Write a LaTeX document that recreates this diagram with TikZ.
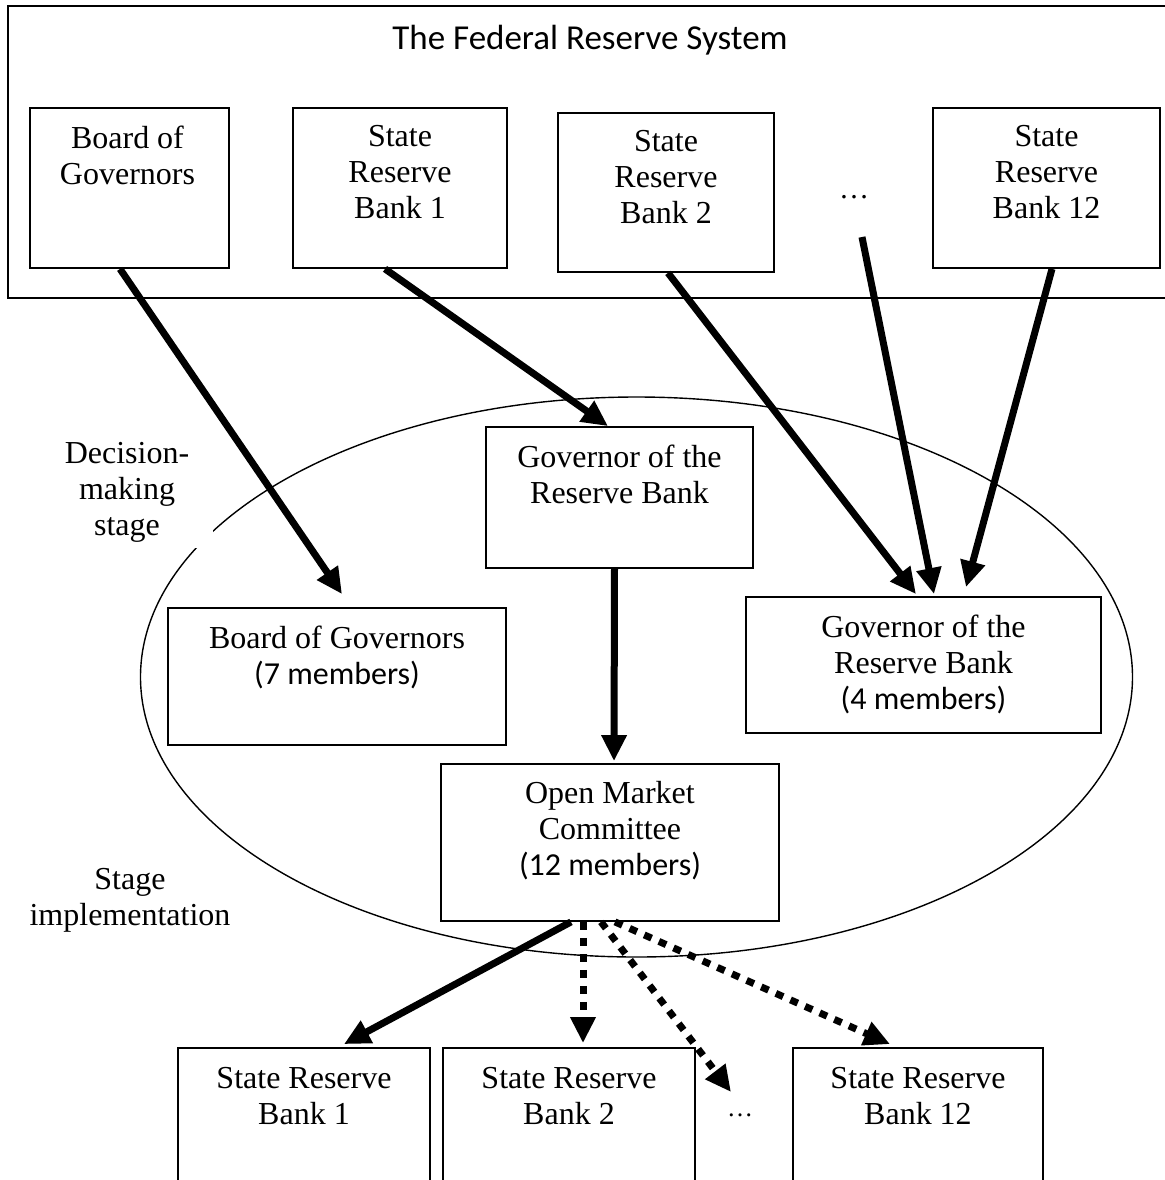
\documentclass[tikz,border=0pt]{standalone}
\usepackage{fontspec}
\setmainfont{Liberation Serif}
\newfontfamily\calibri{Carlito}
\usetikzlibrary{arrows.meta,calc}

\begin{document}
\begin{tikzpicture}[x=0.5pt,y=-0.5pt,
    box/.style={draw,line width=0.9pt,inner sep=0pt},
    boxtext/.style={anchor=north,align=center,inner sep=0pt,
      font=\fontsize{16}{18}\selectfont},
    sidetext/.style={align=center,font=\fontsize{16}{18}\selectfont},
    bigarrow/.style={line width=3.5pt,-{Triangle[length=13pt,width=12pt]}},
    dotarrow/.style={bigarrow,dash pattern=on 4pt off 4pt}]
  \useasboundingbox (0,0) rectangle (1164,1180);

  % the system
  \draw[line width=0.9pt] (8,6) rectangle (1200,298);
  \node[font=\calibri\fontsize{17.5}{20}\selectfont] (title) at (590,40) {The Federal Reserve System};
  \node[box,minimum width=99.5pt,minimum height=80pt] (bogT) at (129.5,188) {};
  \node[box,minimum width=107pt,minimum height=80pt] (srbOne) at (400,188) {};
  \node[box,minimum width=108pt,minimum height=79.5pt] (srbTwo) at (666,192.5) {};
  \node[box,minimum width=113.5pt,minimum height=80pt] (srbTwelve) at (1046.5,188) {};
  \node[font=\fontsize{15}{17}\selectfont] (dotsT) at (854,197) {\ldots};
  \node[boxtext] (bogTtext) at ([xshift=-1pt,yshift=-9pt]bogT.north) {Board of\\Governors};
  \node[boxtext] (srbOnetext) at ([yshift=-9pt]srbOne.north) {State\\Reserve\\Bank 1};
  \node[boxtext] (srbTwotext) at ([yshift=-9pt]srbTwo.north) {State\\Reserve\\Bank 2};
  \node[boxtext] (srbTwelvetext) at ([yshift=-9pt]srbTwelve.north) {State\\Reserve\\Bank 12};

  % decision making
  \draw[line width=0.7pt] (636.5,677) ellipse [x radius=248pt, y radius=140pt];
  \node[sidetext,fill=white,inner xsep=12pt,inner ysep=3pt] (decide) at (127,492) {Decision-\\making\\stage};
  \node[sidetext] (implement) at (130,900) {Stage\\implementation};
  \node[box,minimum width=133.5pt,minimum height=70.5pt] (govC) at (619.5,497.5) {};
  \node[box,minimum width=169pt,minimum height=68.5pt] (bogM) at (337,676.5) {};
  \node[box,minimum width=177.5pt,minimum height=68pt] (govR) at (923.5,665) {};
  \node[box,minimum width=169pt,minimum height=78.5pt] (omc) at (610,842.5) {};
  \node[boxtext] (govCtext) at ([yshift=-9pt]govC.north) {Governor of the\\Reserve Bank};
  \node[boxtext] (bogMtext) at ([yshift=-9pt]bogM.north) {Board of Governors\\{\calibri (7 members)}};
  \node[boxtext] (govRtext) at ([yshift=-9pt]govR.north) {Governor of the\\Reserve Bank\\{\calibri (4 members)}};
  \node[boxtext] (omctext) at ([yshift=-9pt]omc.north) {Open Market\\Committee\\{\calibri (12 members)}};

  % implementation
  \node[box,minimum width=126pt,minimum height=71pt] (srbOneB) at (304,1119) {};
  \node[box,minimum width=126pt,minimum height=71pt] (srbTwoB) at (569,1119) {};
  \node[box,minimum width=125pt,minimum height=71pt] (srbTwelveB) at (918,1119) {};
  \node[font=\fontsize{13}{15}\selectfont] (dotsB) at (740,1115) {\ldots};
  \node[boxtext] (srbOneBtext) at ([yshift=-10pt]srbOneB.north) {State Reserve\\Bank 1};
  \node[boxtext] (srbTwoBtext) at ([yshift=-10pt]srbTwoB.north) {State Reserve\\Bank 2};
  \node[boxtext] (srbTwelveBtext) at ([yshift=-10pt]srbTwelveB.north) {State Reserve\\Bank 12};

  % arrows
  \draw[bigarrow] ($(bogT.south)+(-9.5,0)$) -- ($(bogM.north)+(5,-13)$);
  \draw[bigarrow] ($(srbOne.south)+(-15,0)$) -- ($(govC.north)+(-11.5,0)$);
  \draw[bigarrow] ($(srbTwo.south)+(2,0)$) -- ($(govR.north)+(-7.5,-2)$);
  \draw[bigarrow] ($(dotsT)+(8,40)$) -- ($(govR.north)+(10.5,-2)$);
  \draw[bigarrow] ($(srbTwelve.south)+(5.5,0)$) -- ($(govR.north)+(42.5,-9)$);
  \draw[bigarrow] ($(govC.south)+(-5,0)$) -- ($(omc.north)+(4,-2)$);
  \draw[bigarrow] ($(omc.south)+(-39,0)$) -- ($(srbOneB.north)+(40,-3)$);
  \draw[dotarrow] ($(omc.south)+(-27,0)$) -- ($(srbTwoB.north)+(14,-4)$);
  \draw[dotarrow] ($(omc.south)+(-9,0)$) -- ($(dotsB)+(-9,-23)$);
  \draw[dotarrow] ($(omc.south)+(5,0)$) -- ($(srbTwelveB.north)+(-28,-3)$);
\end{tikzpicture}
\end{document}
